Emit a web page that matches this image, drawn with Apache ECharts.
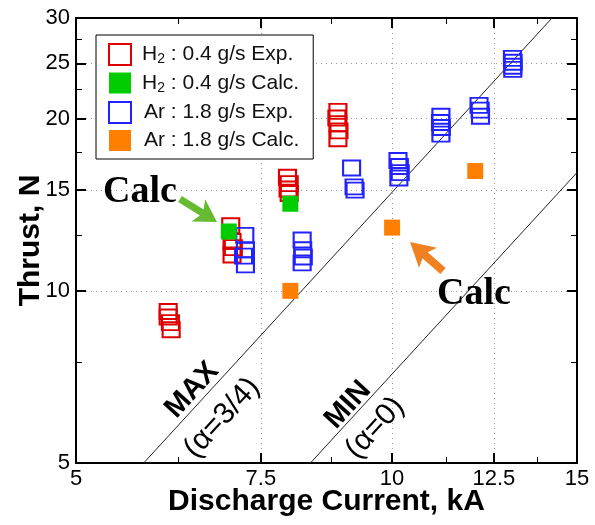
<!DOCTYPE html>
<html>
<head>
<meta charset="utf-8">
<script src="https://cdn.jsdelivr.net/npm/echarts@6/dist/echarts.min.js"></script>
<style>html,body{margin:0;padding:0;background:#fff}#c{width:595px;height:525px}</style>
</head>
<body>
<div id="c"></div>
<script>
// ---- data (Discharge current kA, Thrust N) ----
const xMajor = [5, 7.5, 10, 12.5, 15];
const xMinor = [6.25, 8.75, 11.25, 13.75];
const yMajor = [5, 10, 15, 20, 25, 30];
const yMinor = [7.5, 12.5, 17.5, 22.5, 27.5];

const seriesNames = ['H2 : 0.4 g/s Exp.', 'H2 : 0.4 g/s Calc.', 'Ar : 1.8 g/s Exp.', 'Ar : 1.8 g/s Calc.'];

const h2Exp = [
  [6.12, 9.2], [6.12, 9.0], [6.15, 8.8], [6.16, 8.55],
  [7.02, 13.0], [7.04, 12.2], [7.06, 11.9], [7.04, 11.55],
  [7.95, 15.8], [7.98, 15.4], [7.96, 15.07], [7.98, 14.8],
  [8.88, 20.6], [8.86, 20.06], [8.88, 19.6], [8.9, 19.04], [8.88, 18.45]
];
const h2Calc = [[6.99, 12.7], [8.0, 14.2]];
const arExp = [
  [7.24, 12.5], [7.25, 11.8], [7.22, 11.5], [7.25, 11.1],
  [8.21, 12.27], [8.22, 11.8], [8.23, 11.46], [8.21, 11.19],
  [9.15, 16.4], [9.2, 15.2], [9.22, 15.0],
  [10.13, 16.9], [10.16, 16.5], [10.18, 16.1], [10.15, 15.75],
  [11.13, 20.2], [11.12, 19.7], [11.14, 19.3], [11.13, 18.8],
  [12.1, 21.1], [12.13, 20.7], [12.14, 20.2],
  [13.02, 25.5], [13.04, 25.1], [13.03, 24.7], [13.03, 24.4]
];
const arCalc = [[8.0, 10.0], [10.0, 12.9], [12.0, 16.2]];

// theoretical limit lines (end points)
const maxLine = [[5.8, 5], [14.2, 30]];
const minLine = [[8.36, 5], [15, 16.1]];

// ---- chart ----
const SANS = '"Liberation Sans", Arial, sans-serif';
const SERIF = '"Liberation Serif", "Times New Roman", serif';
const chart = echarts.init(document.getElementById('c'), null, {renderer: 'canvas'});

function xAx(pos, vals, major) {
  return {
    type: 'log', logBase: 10, min: 5, max: 15, position: pos,
    axisLine: {show: major, onZero: false, lineStyle: {color: '#000', width: 2}},
    axisTick: {show: true, inside: true, length: major ? 10 : 6, customValues: vals,
      lineStyle: {color: '#000', width: major ? 2 : 1}},
    axisLabel: {show: major && pos === 'bottom', customValues: vals, fontFamily: SANS, fontSize: 22, color: '#000', margin: 5,
      formatter: v => String(+v.toFixed(2))},
    splitLine: {show: major && pos === 'bottom', lineStyle: {type: [1, 4], color: '#999', width: 1}},
    minorTick: {show: false}, minorSplitLine: {show: false},
    name: (major && pos === 'bottom') ? 'Discharge Current, kA' : '',
    nameLocation: 'middle', nameGap: 24, nameMoveOverlap: false,
    nameTextStyle: {fontFamily: SANS, fontWeight: 'bold', fontSize: 30, color: '#000'}
  };
}
function yAx(pos, vals, major) {
  return {
    type: 'log', logBase: 10, min: 5, max: 30, position: pos,
    axisLine: {show: major, onZero: false, lineStyle: {color: '#000', width: 2}},
    axisTick: {show: true, inside: true, length: major ? 10 : 6, customValues: vals,
      lineStyle: {color: '#000', width: major ? 2 : 1}},
    axisLabel: {show: major && pos === 'left', customValues: vals, fontFamily: SANS, fontSize: 22, color: '#000', margin: 6,
      formatter: v => String(+v.toFixed(2))},
    splitLine: {show: major && pos === 'left', lineStyle: {type: [1, 4], color: '#999', width: 1}},
    minorTick: {show: false}, minorSplitLine: {show: false},
    name: (major && pos === 'left') ? 'Thrust, N' : '',
    nameLocation: 'middle', nameGap: 30, nameMoveOverlap: false,
    nameTextStyle: {fontFamily: SANS, fontWeight: 'bold', fontSize: 30, color: '#000'}
  };
}

function hollow(name, data, color) {
  return {
    name, type: 'scatter', data, xAxisIndex: 0, yAxisIndex: 0,
    symbol: 'rect', symbolSize: [17, 15],
    itemStyle: {color: 'rgba(255,255,255,0)', borderColor: color, borderWidth: 2, opacity: 1},
    emphasis: {disabled: true}, z: 3
  };
}
function filled(name, data, color) {
  return {
    name, type: 'scatter', data, xAxisIndex: 0, yAxisIndex: 0,
    symbol: 'rect', symbolSize: 16,
    itemStyle: {color, borderWidth: 0, opacity: 1},
    emphasis: {disabled: true}, z: 4
  };
}
function limitLine(data) {
  return {
    type: 'line', data, xAxisIndex: 0, yAxisIndex: 0, showSymbol: false, symbol: 'none',
    lineStyle: {color: '#222', width: 1}, silent: true, z: 2
  };
}

function arrowPts(x1, y1, x2, y2, sw, hw, hl) {
  const dx = x2 - x1, dy = y2 - y1, L = Math.hypot(dx, dy);
  const ux = dx / L, uy = dy / L, nx = -uy, ny = ux;
  const bx = x2 - ux * hl, by = y2 - uy * hl;
  const cx = bx - ux * 4, cy = by - uy * 4;
  return [
    [x1 + nx * sw / 2, y1 + ny * sw / 2], [bx + nx * sw / 2, by + ny * sw / 2],
    [cx + nx * hw / 2, cy + ny * hw / 2], [x2, y2], [cx - nx * hw / 2, cy - ny * hw / 2],
    [bx - nx * sw / 2, by - ny * sw / 2], [x1 - nx * sw / 2, y1 - ny * sw / 2]
  ];
}
const ROT = 47.5 * Math.PI / 180;
function label(text, x, y, font, rot) {
  return {type: 'text', x, y, rotation: rot || 0, z: 10,
    style: {text, font, fill: '#000', textAlign: 'center', textVerticalAlign: 'middle', align: 'center', verticalAlign: 'middle'}};
}

const colors = ['#DD0000', '#00CC00', '#2222FF', '#FF8000'];

chart.setOption({
  animation: false,
  backgroundColor: '#fff',
  grid: {left: 76, right: 18, top: 18, bottom: 62, containLabel: false, outerBoundsMode: 'none'},
  xAxis: [xAx('bottom', xMajor, true), xAx('bottom', xMinor, false), xAx('top', xMajor, true), xAx('top', xMinor, false)],
  yAxis: [yAx('left', yMajor, true), yAx('left', yMinor, false), yAx('right', yMajor, true), yAx('right', yMinor, false)],
  legend: {
    orient: 'vertical', left: 96, top: 35, selectedMode: false,
    data: seriesNames,
    backgroundColor: '#fff', borderColor: '#000', borderWidth: 1,
    padding: [8, 14, 8, 12], itemGap: 6, itemWidth: 22, itemHeight: 21,
    textStyle: {fontFamily: SANS, fontSize: 21, color: '#111',
      rich: {
        h: {fontFamily: SANS, fontSize: 21, color: '#111', lineHeight: 24, padding: [0, 0, 0, 6]},
        a: {fontFamily: SANS, fontSize: 21, color: '#111', lineHeight: 24, padding: [0, 0, 0, 8]},
        s: {fontFamily: SANS, fontSize: 14, color: '#111', lineHeight: 24, verticalAlign: 'bottom'},
        t: {fontFamily: SANS, fontSize: 21, color: '#111', lineHeight: 24}
      }},
    formatter: name => name.startsWith('H2')
      ? '{h|H}{s|2}{t|' + name.slice(2) + '}'
      : '{a|Ar}{t|' + name.slice(2) + '}'
  },
  series: [
    limitLine(maxLine), limitLine(minLine),
    hollow(seriesNames[0], h2Exp, colors[0]),
    filled(seriesNames[1], h2Calc, colors[1]),
    hollow(seriesNames[2], arExp, colors[2]),
    filled(seriesNames[3], arCalc, colors[3])
  ],
  graphic: [
    label('Calc', 140, 192, 'bold 38px ' + SERIF),
    {type: 'polygon', z: 10, shape: {points: arrowPts(180, 199, 217, 222, 7, 26, 18)}, style: {fill: '#66BB33'}},
    label('Calc', 474, 294, 'bold 38px ' + SERIF),
    {type: 'polygon', z: 10, shape: {points: arrowPts(443, 271, 410, 242, 8, 27, 20)}, style: {fill: '#F08020'}},
    label('MAX', 192, 390, 'bold 29px ' + SANS, ROT),
    label('(\u03b1=3/4)', 222, 418, '30px ' + SANS, ROT),
    label('MIN', 348, 405, 'bold 29px ' + SANS, ROT),
    label('(\u03b1=0)', 375, 428, '30px ' + SANS, ROT)
  ]
});
</script>
</body>
</html>
